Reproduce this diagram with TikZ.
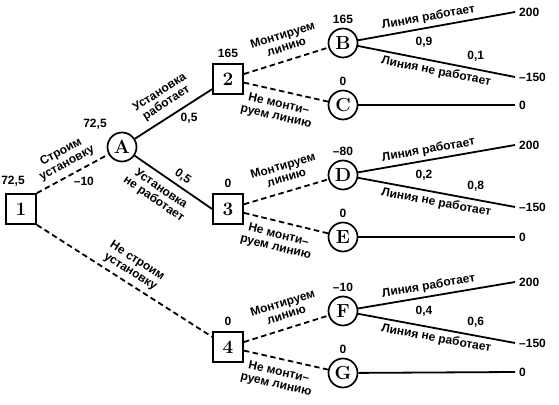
\documentclass[tikz,border=0pt]{standalone}
\usepackage{fontspec}
\newfontfamily\lblfont{Liberation Sans}
\usepackage{tikz}
\usetikzlibrary{positioning}

\begin{document}
\begin{tikzpicture}[
    x=1pt, y=1pt,
    decision/.style={rectangle, draw, line width=1.8pt, fill=white, minimum size=30pt, inner sep=0pt, font=\fontsize{19}{19}\selectfont\bfseries},
    chance/.style={circle, draw, line width=1.7pt, fill=white, minimum size=29pt, inner sep=0pt, font=\fontsize{19}{19}\selectfont\bfseries},
    lbl/.style={font=\lblfont\fontsize{12}{12.5}\selectfont\bfseries, align=center, inner sep=1.5pt},
    val/.style={font=\lblfont\fontsize{12}{13}\selectfont\bfseries, inner sep=1pt},
    branch/.style={line width=1.8pt},
    dashedbranch/.style={line width=1.8pt, dash pattern=on 5.5pt off 3.5pt},
    ]
    \useasboundingbox (0,0) rectangle (559,404);

    % ---- decision and chance nodes ----
    \node[decision] (n1) at (21,195) {1};
    \node[chance]   (A)  at (122,257) {A};
    \node[decision] (n2) at (228,325) {2};
    \node[decision] (n3) at (228,195) {3};
    \node[decision] (n4) at (228,57) {4};
    \node[chance] (B) at (343,361) {B};
    \node[chance] (C) at (343,299) {C};
    \node[chance] (D) at (343,229) {D};
    \node[chance] (E) at (343,167) {E};
    \node[chance] (F) at (343,93) {F};
    \node[chance] (G) at (343,31) {G};

    % ---- outcomes ----
    \coordinate (Bup) at (515,392);
    \coordinate (Bdn) at (515,327);
    \coordinate (Cend) at (515,299);
    \coordinate (Dup) at (515,259);
    \coordinate (Ddn) at (515,197);
    \coordinate (Eend) at (515,167);
    \coordinate (Fup) at (515,122);
    \coordinate (Fdn) at (515,61);
    \coordinate (Gend) at (515,32);
    \node[val, right=3pt of Bup] {200};
    \node[val, right=3pt of Bdn] {–150};
    \node[val, right=3pt of Cend] {0};
    \node[val, right=3pt of Dup] {200};
    \node[val, right=3pt of Ddn] {–150};
    \node[val, right=3pt of Eend] {0};
    \node[val, right=3pt of Fup] {200};
    \node[val, right=3pt of Fdn] {–150};
    \node[val, right=3pt of Gend] {0};

    % ---- expected values ----
    \node[val] at (13,223) {72,5};
    \node[val] at (95,280) {72,5};
    \node[val, above=4pt of n2] {165};
    \node[val, above=3pt of B] {165};
    \node[val, above=3pt of C] {0};
    \node[val, above=4pt of n3] {0};
    \node[val, above=3pt of D] {–80};
    \node[val, above=3pt of E] {0};
    \node[val, above=4pt of n4] {0};
    \node[val, above=3pt of F] {–10};
    \node[val, above=3pt of G] {0};

    % ---- first stage ----
    \draw[dashedbranch] (n1.north east) -- (A)
        node[lbl, pos=0.5, sloped, above=4pt] {Строим\\установку}
        node[val, pos=0.48, below right=1pt] {–10};
    \draw[dashedbranch] (n1.south east) -- (n4)
        node[lbl, pos=0.5, sloped, above=3pt] {Не строим\\установку};
    \draw[branch] (A) -- (n2)
        node[lbl, pos=0.5, sloped, above=5pt] {Установка\\работает}
        node[val, pos=0.56, below right=1pt] {0,5};
    \draw[branch] (A) -- (n3.west)
        node[lbl, pos=0.43, sloped, below=5pt] {Установка\\не работает}
        node[val, pos=0.55, sloped, above=3pt] {0,5};

    % ---- second stage ----
    \draw[dashedbranch] (n2) -- (B)
        node[lbl, pos=0.55, sloped, above=7pt] {Монтируем\\линию};
    \draw[dashedbranch] (n2) -- (C)
        node[lbl, pos=0.45, sloped, below=6pt] {Не монти–\\руем линию};
    \draw[dashedbranch] (n3) -- (D)
        node[lbl, pos=0.55, sloped, above=7pt] {Монтируем\\линию};
    \draw[dashedbranch] (n3) -- (E)
        node[lbl, pos=0.45, sloped, below=6pt] {Не монти–\\руем линию};
    \draw[dashedbranch] (n4) -- (F)
        node[lbl, pos=0.55, sloped, above=7pt] {Монтируем\\линию};
    \draw[dashedbranch] (n4) -- (G)
        node[lbl, pos=0.45, sloped, below=6pt] {Не монти–\\руем линию};

    % ---- line works / fails ----
    \draw[branch] (B) -- (Bup)
        node[lbl, pos=0.46, sloped, above=2pt] {Линия работает}
        node[val, pos=0.42, below=7pt] {0,9};
    \draw[branch] (B) -- (Bdn)
        node[val, pos=0.75, above=6pt] {0,1}
        node[lbl, pos=0.51, sloped, below=2pt] {Линия не работает};
    \draw[branch] (C) -- (Cend);
    \draw[branch] (D) -- (Dup)
        node[lbl, pos=0.46, sloped, above=2pt] {Линия работает}
        node[val, pos=0.42, below=7pt] {0,2};
    \draw[branch] (D) -- (Ddn)
        node[val, pos=0.75, above=6pt] {0,8}
        node[lbl, pos=0.51, sloped, below=2pt] {Линия не работает};
    \draw[branch] (E) -- (Eend);
    \draw[branch] (F) -- (Fup)
        node[lbl, pos=0.46, sloped, above=2pt] {Линия работает}
        node[val, pos=0.42, below=7pt] {0,4};
    \draw[branch] (F) -- (Fdn)
        node[val, pos=0.75, above=6pt] {0,6}
        node[lbl, pos=0.51, sloped, below=2pt] {Линия не работает};
    \draw[branch] (G) -- (Gend);

\end{tikzpicture}
\end{document}
